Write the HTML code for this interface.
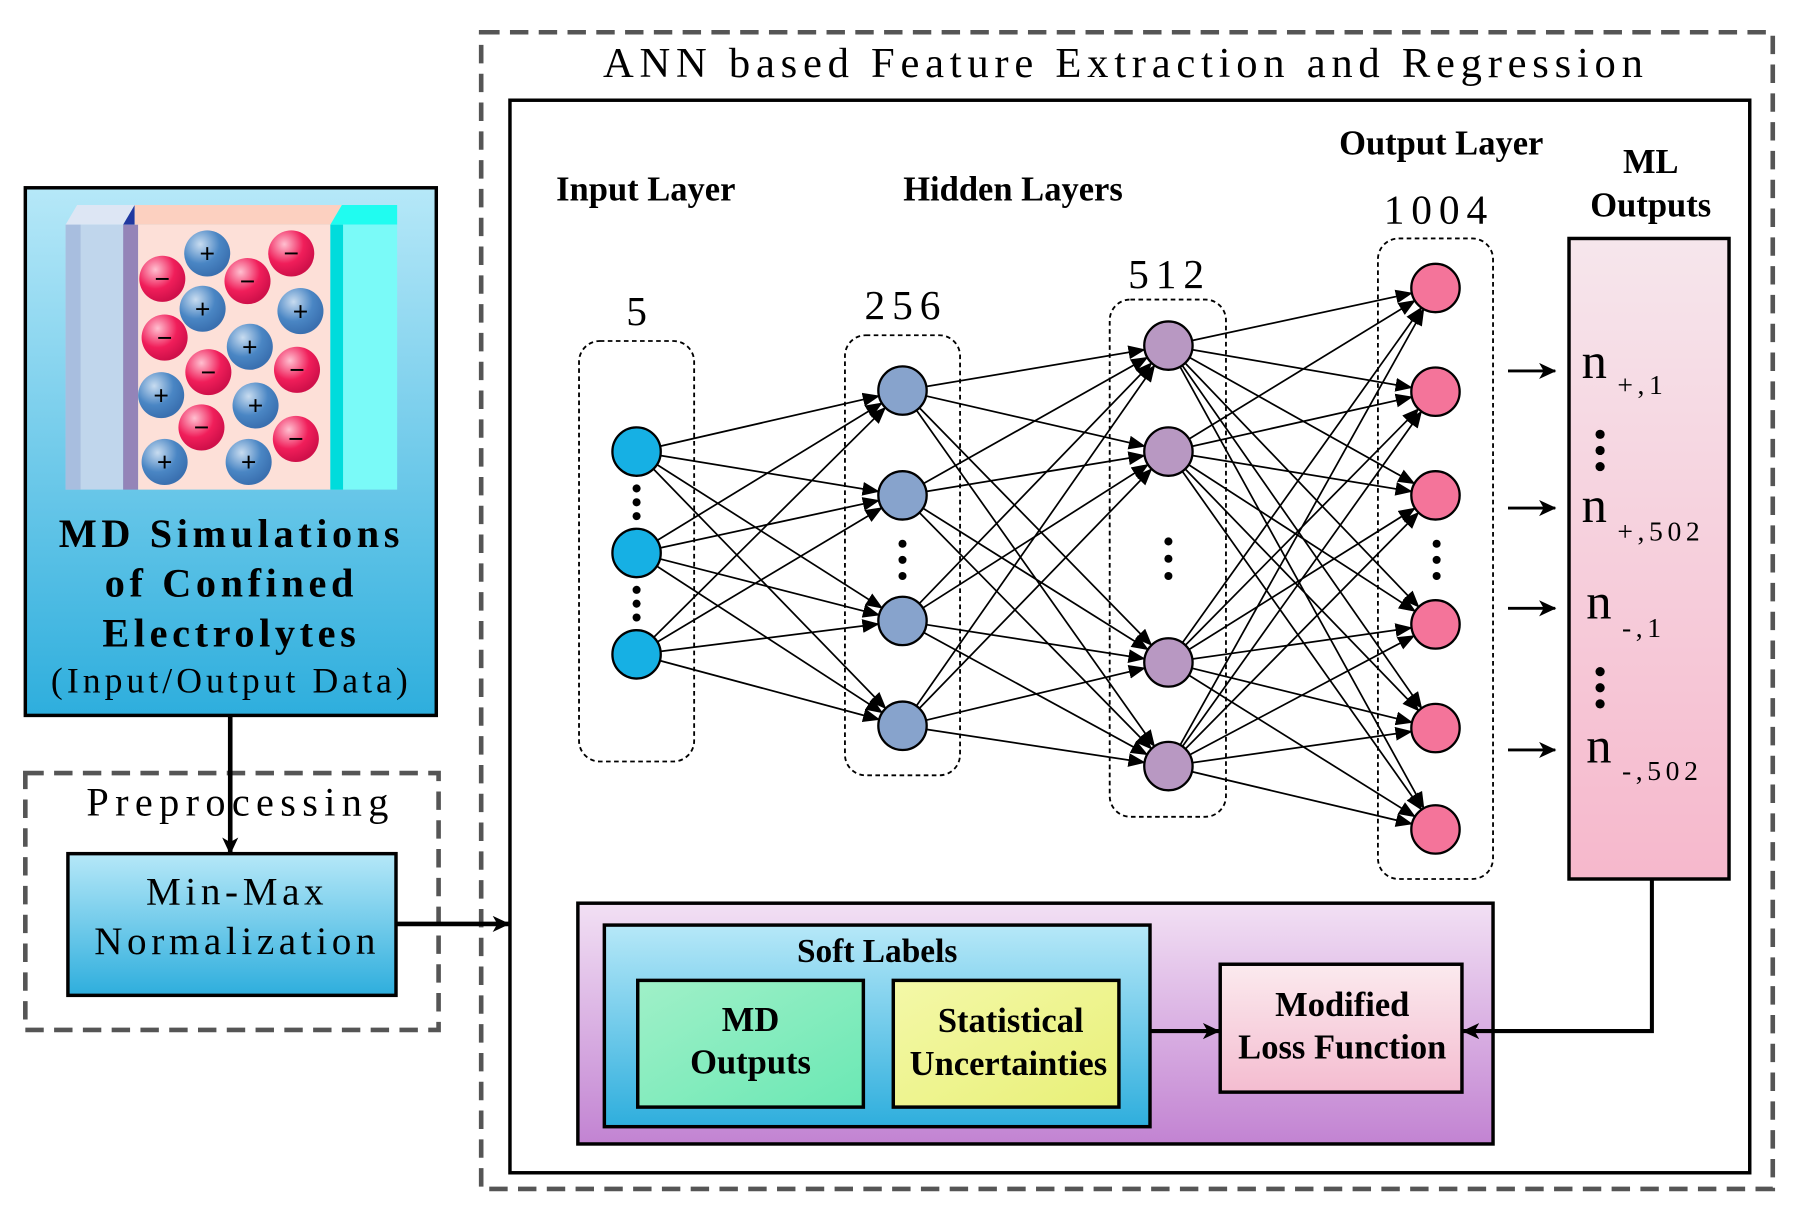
<!DOCTYPE html>
<html><head><meta charset="utf-8"><style>
html,body{margin:0;padding:0;background:#fff}
svg{display:block}
text{font-family:"Liberation Serif",serif}
</style></head><body>
<svg width="1805" height="1220" viewBox="0 0 1568 1059" preserveAspectRatio="none" xmlns="http://www.w3.org/2000/svg">
<defs>
<marker id="a" markerUnits="userSpaceOnUse" markerWidth="60" markerHeight="20" refX="35" refY="6" orient="auto"><path d="M0,0 L15,6 L0,12 Z" fill="#000"/></marker>
<marker id="b" markerUnits="userSpaceOnUse" markerWidth="20" markerHeight="20" refX="14" refY="7" orient="auto"><path d="M0,0 L15,7 L0,14 L4,7Z" fill="#000"/></marker>
<linearGradient id="gblue" x1="0" y1="0" x2="0" y2="1"><stop offset="0" stop-color="#b6e8f8"/><stop offset="1" stop-color="#2eaedd"/></linearGradient>
<linearGradient id="gpink" x1="0" y1="0" x2="0" y2="1"><stop offset="0" stop-color="#f6e6ec"/><stop offset="1" stop-color="#f6b8cc"/></linearGradient>
<linearGradient id="gpur" x1="0" y1="0" x2="0" y2="1"><stop offset="0" stop-color="#f2e0f4"/><stop offset="1" stop-color="#c283d2"/></linearGradient>
<linearGradient id="ggreen" x1="0" y1="0" x2="1" y2="1"><stop offset="0" stop-color="#a0f0c8"/><stop offset="1" stop-color="#6ae8b4"/></linearGradient>
<linearGradient id="gyel" x1="0" y1="0" x2="1" y2="1"><stop offset="0" stop-color="#f4f8a8"/><stop offset="1" stop-color="#e8f078"/></linearGradient>
<linearGradient id="gloss" x1="0" y1="0" x2="0" y2="1"><stop offset="0" stop-color="#fbeaee"/><stop offset="1" stop-color="#f4bcd0"/></linearGradient>
<radialGradient id="ip" cx="0.35" cy="0.3" r="0.7"><stop offset="0" stop-color="#c8dcf0"/><stop offset="0.6" stop-color="#4a86c4"/><stop offset="1" stop-color="#3a70b0"/></radialGradient>
<radialGradient id="im" cx="0.35" cy="0.3" r="0.7"><stop offset="0" stop-color="#ffc0d0"/><stop offset="0.6" stop-color="#f01e5a"/><stop offset="1" stop-color="#d0104a"/></radialGradient>
</defs>

<rect x="418" y="28" width="1122" height="1004" fill="none" stroke="#555" stroke-width="4" stroke-dasharray="16,9"/>
<text x="978" y="67" font-size="37" text-anchor="middle" letter-spacing="5">ANN based Feature Extraction and Regression</text>
<rect x="443" y="87" width="1077" height="931" fill="#fff" stroke="#000" stroke-width="3"/>

<rect x="22" y="163" width="357" height="458" fill="url(#gblue)" stroke="#000" stroke-width="3"/>
<polygon points="57,195 67,178 117,178 107,195" fill="#dde6f4"/>
<rect x="57" y="195" width="50" height="230" fill="#c0d6ec"/>
<rect x="57" y="195" width="13" height="230" fill="#a8bedf"/>
<polygon points="107,195 117,178 117,195" fill="#2038a0"/>
<rect x="107" y="195" width="13" height="230" fill="#9484b8"/>
<polygon points="117,178 297,178 287,195 117,195" fill="#fcd0c0"/>
<rect x="120" y="195" width="167" height="230" fill="#fde0d8"/>
<polygon points="287,195 297,178 345,178 345,195" fill="#20fcf0"/>
<rect x="287" y="195" width="58" height="230" fill="#7afaf8"/>
<rect x="287" y="195" width="11" height="230" fill="#00dcdc"/>
<g font-family="Liberation Sans,sans-serif" font-size="24" font-weight="bold" text-anchor="middle">
<g fill="url(#ip)"><circle cx="180" cy="220" r="20"/><circle cx="176" cy="268" r="20"/><circle cx="261" cy="270" r="20"/><circle cx="217" cy="301" r="20"/><circle cx="140" cy="343" r="20"/><circle cx="222" cy="352" r="20"/><circle cx="143" cy="401" r="20"/><circle cx="216" cy="401" r="20"/></g>
<g fill="url(#im)"><circle cx="253" cy="220" r="20"/><circle cx="141" cy="242" r="20"/><circle cx="215" cy="244" r="20"/><circle cx="143" cy="293" r="20"/><circle cx="181" cy="323" r="20"/><circle cx="258" cy="321" r="20"/><circle cx="175" cy="371" r="20"/><circle cx="257" cy="381" r="20"/></g>
<g fill="#000"><text x="180" y="228">+</text><text x="176" y="276">+</text><text x="261" y="278">+</text><text x="217" y="309">+</text><text x="140" y="351">+</text><text x="222" y="360">+</text><text x="143" y="409">+</text><text x="216" y="409">+</text>
<text x="253" y="228">−</text><text x="141" y="250">−</text><text x="215" y="252">−</text><text x="143" y="301">−</text><text x="181" y="331">−</text><text x="258" y="329">−</text><text x="175" y="379">−</text><text x="257" y="389">−</text></g>
</g>
<g font-size="35" font-weight="bold" text-anchor="middle" letter-spacing="4">
<text x="201" y="475">MD Simulations</text><text x="201" y="518">of Confined</text><text x="201" y="561">Electrolytes</text></g>
<text x="201" y="601" font-size="31" text-anchor="middle" letter-spacing="3.5">(Input/Output Data)</text>

<rect x="22" y="671" width="359" height="223" fill="none" stroke="#555" stroke-width="4" stroke-dasharray="16,9"/>
<text x="209" y="708" font-size="35" text-anchor="middle" letter-spacing="5.5">Preprocessing</text>
<rect x="59" y="741" width="285" height="123" fill="url(#gblue)" stroke="#000" stroke-width="3"/>
<text x="206" y="785" font-size="34" text-anchor="middle" letter-spacing="4">Min-Max</text>
<text x="206" y="828" font-size="34" text-anchor="middle" letter-spacing="4">Normalization</text>
<line x1="200" y1="621" x2="200" y2="741" stroke="#000" stroke-width="4" marker-end="url(#b)"/>
<line x1="344" y1="802" x2="442" y2="802" stroke="#000" stroke-width="4" marker-end="url(#b)"/>

<g fill="none" stroke="#000" stroke-width="1.6" stroke-dasharray="4,3">
<rect x="503" y="296" width="100" height="365" rx="18"/>
<rect x="734" y="291" width="100" height="382" rx="18"/>
<rect x="964" y="260" width="101" height="449" rx="18"/>
<rect x="1197" y="207" width="100" height="556" rx="18"/>
</g>

<g font-size="30" font-weight="bold" text-anchor="middle">
<text x="561" y="174">Input Layer</text><text x="880" y="174">Hidden Layers</text><text x="1252" y="134">Output Layer</text>
<text x="1434" y="150">ML</text><text x="1434" y="188">Outputs</text></g>
<g font-size="36" text-anchor="middle" letter-spacing="6"><text x="556" y="282">5</text><text x="787" y="277">256</text><text x="1016" y="250">512</text><text x="1250" y="194">1004</text></g>

<g stroke="#000" stroke-width="1.5" marker-end="url(#a)">
<line x1="553" y1="392" x2="784" y2="339"/><line x1="553" y1="392" x2="784" y2="430"/><line x1="553" y1="392" x2="784" y2="539"/><line x1="553" y1="392" x2="784" y2="630"/>
<line x1="553" y1="480" x2="784" y2="339"/><line x1="553" y1="480" x2="784" y2="430"/><line x1="553" y1="480" x2="784" y2="539"/><line x1="553" y1="480" x2="784" y2="630"/>
<line x1="553" y1="568" x2="784" y2="339"/><line x1="553" y1="568" x2="784" y2="430"/><line x1="553" y1="568" x2="784" y2="539"/><line x1="553" y1="568" x2="784" y2="630"/>
<line x1="784" y1="339" x2="1015" y2="300"/><line x1="784" y1="339" x2="1015" y2="392"/><line x1="784" y1="339" x2="1015" y2="575"/><line x1="784" y1="339" x2="1015" y2="665"/>
<line x1="784" y1="430" x2="1015" y2="300"/><line x1="784" y1="430" x2="1015" y2="392"/><line x1="784" y1="430" x2="1015" y2="575"/><line x1="784" y1="430" x2="1015" y2="665"/>
<line x1="784" y1="539" x2="1015" y2="300"/><line x1="784" y1="539" x2="1015" y2="392"/><line x1="784" y1="539" x2="1015" y2="575"/><line x1="784" y1="539" x2="1015" y2="665"/>
<line x1="784" y1="630" x2="1015" y2="300"/><line x1="784" y1="630" x2="1015" y2="392"/><line x1="784" y1="630" x2="1015" y2="575"/><line x1="784" y1="630" x2="1015" y2="665"/>
<line x1="1015" y1="300" x2="1247" y2="250"/><line x1="1015" y1="300" x2="1247" y2="340"/><line x1="1015" y1="300" x2="1247" y2="430"/><line x1="1015" y1="300" x2="1247" y2="542"/><line x1="1015" y1="300" x2="1247" y2="632"/><line x1="1015" y1="300" x2="1247" y2="720"/>
<line x1="1015" y1="392" x2="1247" y2="250"/><line x1="1015" y1="392" x2="1247" y2="340"/><line x1="1015" y1="392" x2="1247" y2="430"/><line x1="1015" y1="392" x2="1247" y2="542"/><line x1="1015" y1="392" x2="1247" y2="632"/><line x1="1015" y1="392" x2="1247" y2="720"/>
<line x1="1015" y1="575" x2="1247" y2="250"/><line x1="1015" y1="575" x2="1247" y2="340"/><line x1="1015" y1="575" x2="1247" y2="430"/><line x1="1015" y1="575" x2="1247" y2="542"/><line x1="1015" y1="575" x2="1247" y2="632"/><line x1="1015" y1="575" x2="1247" y2="720"/>
<line x1="1015" y1="665" x2="1247" y2="250"/><line x1="1015" y1="665" x2="1247" y2="340"/><line x1="1015" y1="665" x2="1247" y2="430"/><line x1="1015" y1="665" x2="1247" y2="542"/><line x1="1015" y1="665" x2="1247" y2="632"/><line x1="1015" y1="665" x2="1247" y2="720"/>
</g>

<g stroke="#000" stroke-width="2">
<g fill="#16b0e4"><circle cx="553" cy="392" r="21"/><circle cx="553" cy="480" r="21"/><circle cx="553" cy="568" r="21"/></g>
<g fill="#87a3cc"><circle cx="784" cy="339" r="21"/><circle cx="784" cy="430" r="21"/><circle cx="784" cy="539" r="21"/><circle cx="784" cy="630" r="21"/></g>
<g fill="#b898c2"><circle cx="1015" cy="300" r="21"/><circle cx="1015" cy="392" r="21"/><circle cx="1015" cy="575" r="21"/><circle cx="1015" cy="665" r="21"/></g>
<g fill="#f4749a"><circle cx="1247" cy="250" r="21"/><circle cx="1247" cy="340" r="21"/><circle cx="1247" cy="430" r="21"/><circle cx="1247" cy="542" r="21"/><circle cx="1247" cy="632" r="21"/><circle cx="1247" cy="720" r="21"/></g>
</g>
<g fill="#000">
<circle cx="553" cy="424" r="3.5"/><circle cx="553" cy="436" r="3.5"/><circle cx="553" cy="448" r="3.5"/>
<circle cx="553" cy="512" r="3.5"/><circle cx="553" cy="524" r="3.5"/><circle cx="553" cy="536" r="3.5"/>
<circle cx="784" cy="472" r="3.5"/><circle cx="784" cy="486" r="3.5"/><circle cx="784" cy="500" r="3.5"/>
<circle cx="1015" cy="470" r="3.5"/><circle cx="1015" cy="485" r="3.5"/><circle cx="1015" cy="500" r="3.5"/>
<circle cx="1248" cy="472" r="3.5"/><circle cx="1248" cy="486" r="3.5"/><circle cx="1248" cy="500" r="3.5"/>
</g>

<rect x="1363" y="207" width="139" height="556" fill="url(#gpink)" stroke="#000" stroke-width="3"/>
<g stroke="#000" stroke-width="2.5" marker-end="url(#b)"><line x1="1310" y1="322" x2="1351" y2="322"/><line x1="1310" y1="441" x2="1351" y2="441"/><line x1="1310" y1="528" x2="1351" y2="528"/><line x1="1310" y1="651" x2="1351" y2="651"/></g>
<g font-size="44"><text x="1374" y="328">n</text><text x="1374" y="453">n</text><text x="1378" y="537">n</text><text x="1378" y="662">n</text></g>
<g font-size="24" letter-spacing="4"><text x="1405" y="342">+,1</text><text x="1405" y="469">+,502</text><text x="1409" y="553">-,1</text><text x="1409" y="677">-,502</text></g>
<g fill="#000"><circle cx="1390" cy="377" r="4"/><circle cx="1390" cy="391" r="4"/><circle cx="1390" cy="405" r="4"/>
<circle cx="1390" cy="583" r="4"/><circle cx="1390" cy="597" r="4"/><circle cx="1390" cy="611" r="4"/></g>

<rect x="502" y="784" width="795" height="209" fill="url(#gpur)" stroke="#000" stroke-width="3"/>
<rect x="525" y="803" width="474" height="175" fill="url(#gblue)" stroke="#000" stroke-width="3"/>
<text x="762" y="835" font-size="29" font-weight="bold" text-anchor="middle">Soft Labels</text>
<rect x="554" y="851" width="196" height="110" fill="url(#ggreen)" stroke="#000" stroke-width="3"/>
<rect x="776" y="851" width="196" height="110" fill="url(#gyel)" stroke="#000" stroke-width="3"/>
<g font-size="30" font-weight="bold" text-anchor="middle">
<text x="652" y="895">MD</text><text x="652" y="932">Outputs</text>
<text x="878" y="896">Statistical</text><text x="876" y="933">Uncertainties</text></g>
<rect x="1060" y="837" width="210" height="111" fill="url(#gloss)" stroke="#000" stroke-width="3"/>
<g font-size="30" font-weight="bold" text-anchor="middle"><text x="1166" y="882">Modified</text><text x="1166" y="919">Loss Function</text></g>
<line x1="999" y1="895" x2="1059" y2="895" stroke="#000" stroke-width="3.5" marker-end="url(#b)"/>
<polyline points="1435,763 1435,895 1271,895" fill="none" stroke="#000" stroke-width="3.5" marker-end="url(#b)"/>
</svg>
</body></html>
